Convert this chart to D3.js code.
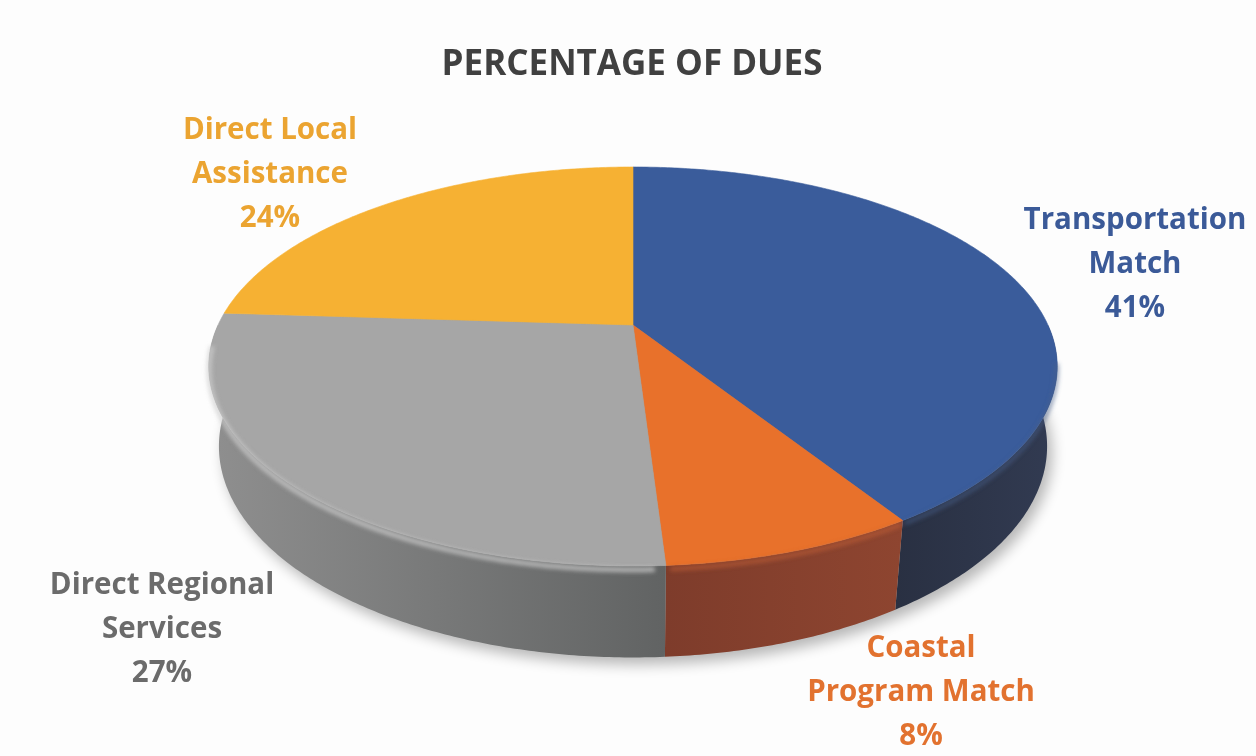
<!DOCTYPE html>
<html><head><meta charset="utf-8">
<script src="https://cdn.jsdelivr.net/npm/d3@7"></script>
<style>body{margin:0;background:#fff}</style></head>
<body>
<svg id="c" width="1256" height="756"></svg>
<script>
// ---- data ----
const title = "PERCENTAGE OF DUES";
const categories = ["Transportation Match", "Coastal Program Match", "Direct Regional Services", "Direct Local Assistance"];
const values = [41, 8, 27, 24];
const valueLabels = ["41%", "8%", "27%", "24%"];
const nameLines = [["Transportation", "Match"], ["Coastal", "Program Match"], ["Direct Regional", "Services"], ["Direct Local", "Assistance"]];
const topColors = ["#3a5c9b", "#e8712b", "#a6a6a6", "#f6b133"];
const sideColorsA = ["#323b52", "#8e4530", "#8f8f8f", "#c08a2a"];
const sideColorsB = ["#293042", "#7e3c2b", "#616363", "#a07020"];
const labelColors = ["#3b5a98", "#e2722f", "#6b6b6b", "#eba431"];

// ---- layout ----
const W = 1256, H = 756;
const labelAnchors = [[1135, 229], [921, 657], [162, 594], [270, 139]];
const lineGap = 44;

const svg = d3.select("#c");
svg.append("rect").attr("width", W).attr("height", H).attr("fill", "#fdfdfd");
const defs = svg.append("defs");

// perspective projection of a tilted disc
const cx = 633, cy = 325, F = 1771, R = 0.2343, T = 0.051;
const sp = 0.46, cp = Math.sqrt(1 - sp * sp);
function proj(theta, y) {
  const X = R * Math.sin(theta), Z = -R * Math.cos(theta);
  const den = 1 - Z * cp + y * sp;
  return [cx + F * X / den, cy + F * (Z * sp + y * cp) / den];
}
function projCenter(y) { const den = 1 + y * sp; return [cx, cy + F * y * cp / den]; }
function rim(a0, a1, y) {
  const n = Math.max(2, Math.ceil((a1 - a0) / 0.01));
  return d3.range(n + 1).map(i => proj(a0 + (a1 - a0) * i / n, y));
}
const line = d3.line();

const arcs = d3.pie().sort(null).value(d => d)(values);

// shadow
const f = defs.append("filter").attr("id", "blur").attr("x", "-20%").attr("y", "-20%").attr("width", "140%").attr("height", "140%");
f.append("feGaussianBlur").attr("stdDeviation", 7);
const f2 = defs.append("filter").attr("id", "soft").attr("x", "-10%").attr("y", "-10%").attr("width", "120%").attr("height", "120%");
f2.append("feGaussianBlur").attr("stdDeviation", 2);
svg.append("path")
  .attr("d", line(rim(0, 2 * Math.PI, T)) + "Z")
  .attr("transform", "translate(5,7)")
  .attr("fill", "#000").attr("opacity", 0.28).attr("filter", "url(#blur)");

// side walls (front half)
arcs.forEach((a, i) => {
  const lo = Math.max(a.startAngle, Math.PI / 2), hi = Math.min(a.endAngle, 3 * Math.PI / 2);
  if (lo >= hi) return;
  const g = defs.append("linearGradient").attr("id", "side" + i).attr("x1", 0).attr("x2", 1).attr("y1", 0).attr("y2", 0);
  g.append("stop").attr("offset", 0).attr("stop-color", i === 2 ? sideColorsA[i] : sideColorsB[i]);
  g.append("stop").attr("offset", 1).attr("stop-color", i === 2 ? sideColorsB[i] : sideColorsA[i]);
  const pts = rim(lo, hi, 0).concat(rim(lo, hi, T).reverse());
  svg.append("path").attr("d", line(pts) + "Z").attr("fill", `url(#side${i})`);
});

// top face
arcs.forEach((a, i) => {
  const pts = [projCenter(0)].concat(rim(a.startAngle, a.endAngle, 0));
  svg.append("path").attr("d", line(pts) + "Z").attr("fill", topColors[i])
    .attr("stroke", topColors[i]).attr("stroke-width", 0.6);
});

// bevel highlights along the front rim
const bevel = svg.append("g").attr("filter", "url(#soft)");
bevel.append("path")
  .attr("d", line(rim(3.1, 4.62, 0.002)))
  .attr("fill", "none").attr("stroke", "#cfcfcf").attr("stroke-width", 5).attr("opacity", 0.75);
bevel.append("path")
  .attr("d", line(rim(1.75, 2.57, 0.002)))
  .attr("fill", "none").attr("stroke", "#4a5f8a").attr("stroke-width", 4).attr("opacity", 0.6);
bevel.append("path")
  .attr("d", line(rim(2.58, 3.07, 0.002)))
  .attr("fill", "none").attr("stroke", "#c86436").attr("stroke-width", 4).attr("opacity", 0.6);

// title
svg.append("text").attr("x", 632).attr("y", 75).attr("text-anchor", "middle")
  .attr("font-family", "'Open Sans', sans-serif").attr("font-weight", 700)
  .attr("font-size", 35).attr("fill", "#404040").text(title);

// labels
arcs.forEach((a, i) => {
  const [x, y] = labelAnchors[i];
  const t = svg.append("text").attr("text-anchor", "middle")
    .attr("font-family", "'Open Sans', sans-serif").attr("font-weight", 700)
    .attr("font-size", 29.5).attr("fill", labelColors[i]);
  nameLines[i].concat([valueLabels[i]]).forEach((s, k) => {
    t.append("tspan").attr("x", x).attr("y", y + k * lineGap).text(s);
  });
});
</script>
</body></html>
